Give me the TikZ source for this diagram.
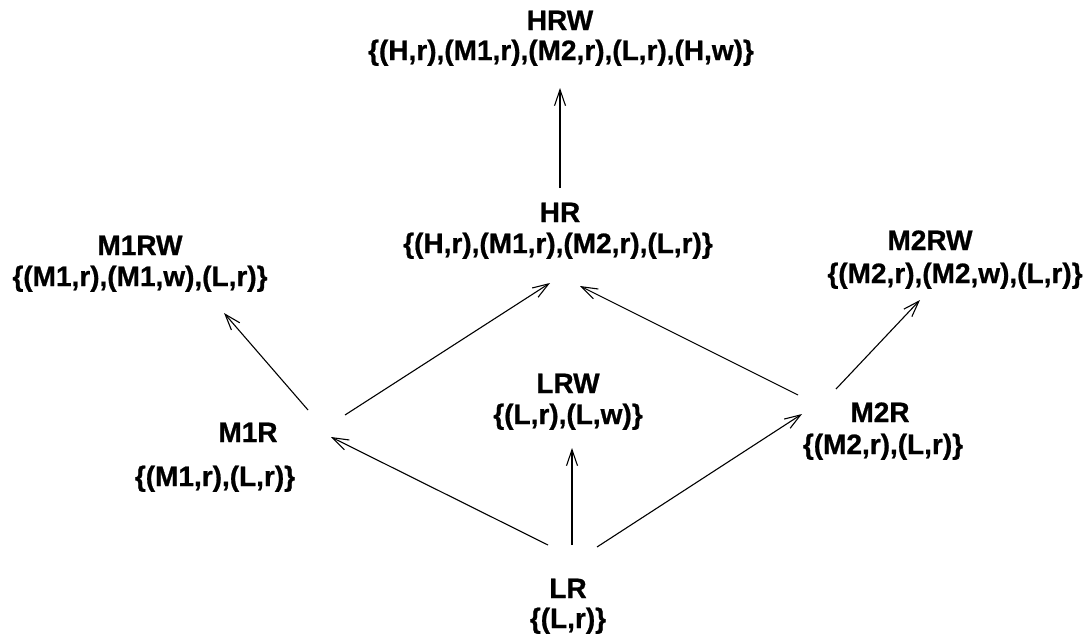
\documentclass[tikz,border=0pt]{standalone}
\usepackage{fontspec}
\setmainfont{Liberation Sans}[BoldFont={Liberation Sans Bold},BoldFeatures={FakeBold=0.8}]
\usetikzlibrary{arrows.meta}
\begin{document}
\begin{tikzpicture}[x=1pt,y=-1pt,
  lbl/.style={font=\fontsize{28}{30}\selectfont\bfseries, inner sep=0pt, anchor=base},
  arr/.style={-{Straight Barb[length=16pt,width=11pt]}, line width=1.1pt}]
\useasboundingbox (0,0) rectangle (1091,640);
% titles and sets
\node[lbl] (hrwT) at (560,30) {HRW};
\node[lbl] (hrwS) at (561,60) {\{(H,r),(M1,r),(M2,r),(L,r),(H,w)\}};
\node[lbl] (hrT) at (560,222) {HR};
\node[lbl] (hrS) at (558,253) {\{(H,r),(M1,r),(M2,r),(L,r)\}};
\node[lbl] (m1rwT) at (140,255) {M1RW};
\node[lbl] (m1rwS) at (140,286) {\{(M1,r),(M1,w),(L,r)\}};
\node[lbl] (m2rwT) at (930,250) {M2RW};
\node[lbl] (m2rwS) at (955,283) {\{(M2,r),(M2,w),(L,r)\}};
\node[lbl] (lrwT) at (568,393) {LRW};
\node[lbl] (lrwS) at (568,424) {\{(L,r),(L,w)\}};
\node[lbl] (m1rT) at (248,442) {M1R};
\node[lbl] (m1rS) at (215,486) {\{(M1,r),(L,r)\}};
\node[lbl] (m2rT) at (880,422) {M2R};
\node[lbl] (m2rS) at (883,454) {\{(M2,r),(L,r)\}};
\node[lbl] (lrT) at (568,598) {LR};
\node[lbl] (lrS) at (568,628) {\{(L,r)\}};
% connector ends
\coordinate (hrUp) at (560,188);
\coordinate (hrwDn) at (560,88);
\coordinate (m1rA) at (308,410);
\coordinate (m1rwDn) at (224,313);
\coordinate (m1rB) at (345,415);
\coordinate (hrL) at (550,283);
\coordinate (lrA) at (548,545);
\coordinate (m1rIn) at (331,437);
\coordinate (lrB) at (572,545);
\coordinate (lrwDn) at (572,448);
\coordinate (lrC) at (597,547);
\coordinate (m2rIn) at (802,414);
\coordinate (m2rA) at (798,395);
\coordinate (hrR) at (580,286);
\coordinate (m2rB) at (836,389);
\coordinate (m2rwDn) at (920,300);
% connectors
\draw[arr] (hrUp) -- (hrwDn);
\draw[arr] (m1rA) -- (m1rwDn);
\draw[arr] (m1rB) -- (hrL);
\draw[arr] (lrA) -- (m1rIn);
\draw[arr] (lrB) -- (lrwDn);
\draw[arr] (lrC) -- (m2rIn);
\draw[arr] (m2rA) -- (hrR);
\draw[arr] (m2rB) -- (m2rwDn);
\end{tikzpicture}
\end{document}
